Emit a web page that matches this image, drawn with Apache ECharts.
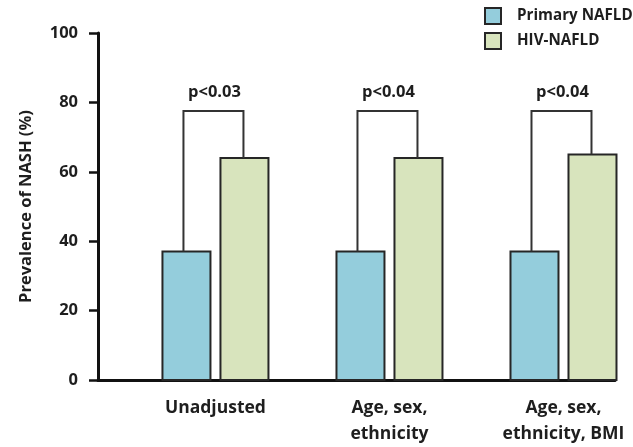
<!DOCTYPE html>
<html>
<head>
<meta charset="utf-8">
<script src="https://cdn.jsdelivr.net/npm/echarts@6/dist/echarts.min.js"></script>
<style>
  html, body { margin: 0; padding: 0; background: #ffffff; }
  #chart { width: 633px; height: 447px; }
</style>
</head>
<body>
<div id="chart"></div>
<script>
// Prevalence of NASH by adjustment model
const categories = ['Unadjusted', 'Age, sex,\nethnicity', 'Age, sex,\nethnicity, BMI'];
const primaryNafld = [37, 37, 37];
const hivNafld = [64, 64, 65];
const pValueLabels = ['p<0.03', 'p<0.04', 'p<0.04'];
const yTicks = [0, 20, 40, 60, 80, 100];
const bracketLevel = 77.5;

const FONT = '"Open Sans"';
const INK = '#1e1e1e';
const BAR_W = 48;
const BAR_SHIFT = 29;   // half the distance between the two bar centres of a group

// x positions 1..n carry the category groups on a value axis
const catPos = categories.map((c, i) => i + 1);

function barRenderer(side, fill) {
  return function (params, api) {
    const x = api.value(0);
    const top = api.coord([x, api.value(1)]);
    const base = api.coord([x, 0]);
    const cx = top[0] + side * BAR_SHIFT;
    return {
      type: 'rect',
      shape: { x: cx - BAR_W / 2, y: top[1], width: BAR_W, height: base[1] - top[1] },
      style: { fill: fill, stroke: '#262626', lineWidth: 2 }
    };
  };
}

function bracketRenderer(params, api) {
  const x = api.value(0);
  const a = api.coord([x, api.value(1)]);
  const b = api.coord([x, api.value(2)]);
  const t = api.coord([x, api.value(3)]);
  const xl = a[0] - BAR_SHIFT - 3;
  const xr = b[0] + BAR_SHIFT - 1;
  return {
    type: 'group',
    children: [
      {
        type: 'polyline',
        shape: { points: [[xl, a[1]], [xl, t[1]], [xr, t[1]], [xr, b[1]]] },
        style: { stroke: '#333333', lineWidth: 2, fill: null }
      },
      {
        type: 'text',
        x: a[0] - 1,
        y: t[1] - 10,
        style: {
          text: pValueLabels[params.dataIndex],
          fontFamily: FONT, fontWeight: 'bold', fontSize: 16.5,
          fill: INK, align: 'center', verticalAlign: 'bottom'
        }
      }
    ]
  };
}

const chart = echarts.init(document.getElementById('chart'), null, { renderer: 'canvas' });

chart.setOption({
  animation: false,
  backgroundColor: '#ffffff',
  textStyle: { fontFamily: FONT },
  grid: { left: 98, right: 18, top: 33, bottom: 64, containLabel: false },
  legend: {
    data: ['Primary NAFLD', 'HIV-NAFLD'],
    orient: 'vertical',
    left: 484,
    top: 7,
    padding: 0,
    itemWidth: 16,
    itemHeight: 16,
    itemGap: 7,
    icon: 'rect',
    textStyle: {
      fontFamily: FONT, fontWeight: 'bold', fontSize: 15.2, color: INK,
      lineHeight: 16, padding: [0, 0, 0, 11]
    }
  },
  xAxis: {
    type: 'value',
    min: 0.325,
    max: 3.296,
    axisLine: { show: true, lineStyle: { color: '#111111', width: 3 } },
    axisTick: { show: false },
    splitLine: { show: false },
    axisLabel: {
      customValues: catPos,
      formatter: (v) => categories[Math.round(v) - 1] || '',
      fontFamily: FONT, fontWeight: 'bold', fontSize: 17.5, color: INK,
      lineHeight: 26, margin: 15
    }
  },
  yAxis: {
    type: 'value',
    min: 0,
    max: 100,
    interval: 20,
    name: 'Prevalence of NASH (%)',
    nameLocation: 'middle',
    nameGap: 63,
    nameTextStyle: { fontFamily: FONT, fontWeight: 'bold', fontSize: 16.5, color: INK },
    axisLine: { show: true, lineStyle: { color: '#111111', width: 3 } },
    axisTick: { show: true, length: 9, lineStyle: { color: '#111111', width: 2.5 } },
    splitLine: { show: false },
    axisLabel: {
      formatter: (v) => (yTicks.indexOf(v) >= 0 ? String(v) : ''),
      fontFamily: FONT, fontWeight: 'bold', fontSize: 16.5, color: INK, margin: 20
    }
  },
  series: [
    {
      name: 'Primary NAFLD',
      type: 'custom',
      renderItem: barRenderer(-1, '#94cddc'),
      itemStyle: { color: '#94cddc', borderColor: '#262626', borderWidth: 2 },
      encode: { x: 0, y: 1 },
      data: primaryNafld.map((v, i) => [catPos[i], v])
    },
    {
      name: 'HIV-NAFLD',
      type: 'custom',
      renderItem: barRenderer(1, '#d8e4bd'),
      itemStyle: { color: '#d8e4bd', borderColor: '#262626', borderWidth: 2 },
      encode: { x: 0, y: 1 },
      data: hivNafld.map((v, i) => [catPos[i], v])
    },
    {
      name: 'significance',
      type: 'custom',
      renderItem: bracketRenderer,
      encode: { x: 0, y: [1, 2, 3] },
      data: categories.map((c, i) => [catPos[i], primaryNafld[i], hivNafld[i], bracketLevel]),
      silent: true
    }
  ]
});
</script>
</body>
</html>
